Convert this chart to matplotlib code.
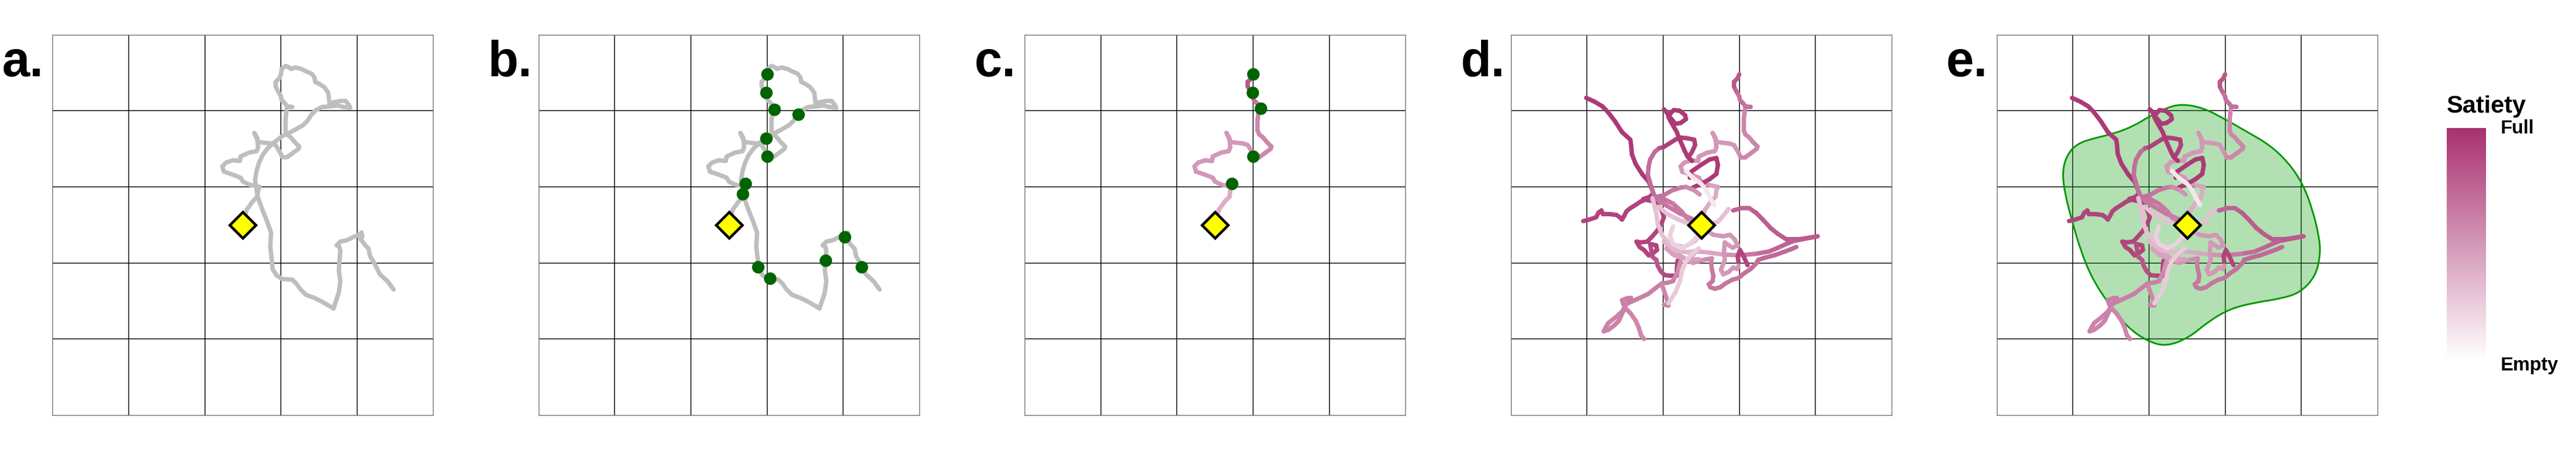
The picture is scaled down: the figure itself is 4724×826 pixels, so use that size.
import matplotlib
matplotlib.use("Agg")
import matplotlib.pyplot as plt
from matplotlib.collections import LineCollection
from matplotlib.colors import LinearSegmentedColormap, Normalize
from matplotlib.path import Path
from matplotlib.patches import PathPatch
import matplotlib.colorbar as mcolorbar

plt.rcParams['font.family'] = ['Liberation Sans', 'DejaVu Sans']

# arena 500 m x 500 m, grid every 100 m, nest in the middle
nest = (250, 250)
grid_lines = [100, 200, 300, 400]
panel_letters = ['a.', 'b.', 'c.', 'd.', 'e.']

# one tracked path (metres), panels a-b
track = [
    (250, 252), (255, 270), (263, 281), (269, 287), (270, 295), (272, 300),
    (258, 303), (250, 307), (247, 312), (237, 316), (225, 320), (223, 327), (228, 332),
    (237, 335), (246, 334), (247, 340), (258, 345), (268, 347), (270, 352), (269, 362),
    (265, 371), (269, 364), (270, 359), (287, 357), (293, 355), (299, 345),
    (302, 339), (308, 339), (315, 344), (323, 350), (324, 353), (318, 359), (313, 365),
    (308, 369), (306, 374), (306, 388), (307, 398), (308, 405),
    (315, 405), (308, 406), (305, 410), (301, 414), (300, 419), (296, 426),
    (293, 432), (293, 438), (298, 443), (300, 448),
    (301, 455), (306, 459), (311, 457), (313, 455), (319, 457), (327, 455), (335, 451),
    (340, 449), (344, 444), (345, 438), (351, 435), (357, 431), (362, 424), (363, 417),
    (364, 408), (368, 411), (378, 413), (385, 413), (389, 408), (391, 404), (382, 405),
    (375, 407), (367, 406), (354, 405), (346, 401), (340, 395), (335, 387), (329, 381),
    (320, 376), (311, 371), (302, 367), (296, 362), (289, 357), (282, 350), (276, 342),
    (271, 331), (268, 321), (266, 309), (268, 297), (269, 288), (276, 269), (282, 254),
    (287, 240), (286, 221), (288, 204), (289, 192), (294, 184), (301, 179), (315, 178),
    (321, 172), (325, 166), (333, 158), (344, 154), (354, 149), (366, 142), (369, 140),
    (373, 152), (376, 161), (378, 176), (376, 190), (377, 204), (378, 216), (376, 223),
    (373, 223), (378, 228), (387, 230), (397, 235), (404, 238), (406, 240), (407, 234),
    (404, 232), (411, 223), (415, 219), (417, 209), (423, 199), (430, 185), (440, 176),
    (448, 165),
]
first_trip_len = 48
first_trip_satiety = [
    0.40, 0.40, 0.40, 0.40, 0.40, 0.40,
    0.50, 0.50, 0.50, 0.50, 0.50, 0.50, 0.50, 0.50, 0.50, 0.50,
    0.50, 0.50, 0.50, 0.50, 0.50, 0.50, 0.50, 0.50, 0.50, 0.50,
    0.58, 0.58, 0.58, 0.58, 0.58, 0.58, 0.58, 0.58, 0.58, 0.58, 0.58, 0.58,
    0.68, 0.68, 0.68, 0.68, 0.68, 0.68,
    0.80, 0.80, 0.80, 0.80,
]

# feeding events
food_all = [(300, 448), (299, 424), (310, 402), (341, 395), (299, 364), (300, 340), (272, 304),
            (268, 291), (288, 195), (304, 180), (377, 203), (402, 234), (424, 195)]
food_first_trip = [(300, 448), (299, 424), (310, 403), (300, 340), (272, 304)]

# other trips from the same nest: (x, y, satiety)
trip_nw = [(99, 417, .95), (110, 412, .95), (120, 406, .95), (127, 399, .95), (137, 386, .95),
           (146, 372, .95), (157, 362, .95), (158, 355, .95), (159, 343, .95), (164, 330, .95),
           (173, 316, .95), (181, 307, .95), (184, 300, .95), (187, 292, .95), (183, 287, .95),
           (174, 284, .95), (186, 286, .9), (199, 285, .7), (213, 278, .65), (224, 268, .65),
           (231, 259, .6), (243, 248, .6)]
trip_w = [(95, 255, .9), (103, 257, .9), (112, 260, .9), (115, 266, .9), (119, 269, .9),
          (121, 264, .9), (131, 264, .9), (139, 263, .9), (143, 260, .9), (146, 257, .9),
          (149, 262, .9), (152, 268, .9), (157, 272, .9), (165, 277, .9), (171, 281, .9),
          (177, 283, .9), (187, 281, .9), (194, 275, .9), (198, 269, .9), (201, 260, .9),
          (198, 252, .9), (192, 242, .9), (185, 234, .9), (179, 228, .9), (171, 227, .9),
          (165, 228, .9), (169, 221, .9), (175, 217, .9), (181, 210, .9), (187, 213, .9),
          (192, 217, .9), (191, 223, .9), (183, 225, .9), (186, 208, .82), (191, 204, .82),
          (193, 196, .82), (197, 189, .82), (202, 184, .88), (211, 183, .9), (218, 183, .9),
          (218, 192, .9), (219, 203, .9)]
trip_n_loop = [(238, 334, .95), (232, 340, .95), (228, 348, .95), (225, 355, .95), (221, 364, .95),
               (218, 372, .95), (214, 379, .95), (210, 386, .95), (207, 392, .95), (210, 397, .95),
               (214, 401, .95), (222, 400, .95), (229, 394, .95), (230, 389, .95), (223, 384, .95),
               (216, 383, .95), (212, 388, .95), (207, 394, .95), (204, 399, .95), (201, 402, .95)]
trip_n = [(248, 252, .55), (238, 258, .6), (222, 265, .65), (205, 275, .65), (190, 285, .68),
          (186, 295, .7), (183, 305, .7), (180, 316, .7), (181, 327, .7), (183, 336, .7),
          (189, 346, .7), (195, 351, .72), (200, 352, .92), (208, 357, .92), (216, 362, .92),
          (221, 365, .92), (231, 364, .92), (241, 362, .92), (242, 355, .92), (238, 346, .92),
          (234, 340, .92)]
trip_knot = [(235, 312, .95), (237, 320, .95), (250, 329, .95), (261, 336, .95), (270, 338, .95),
             (272, 329, .95), (270, 317, .95), (261, 310, .95), (250, 304, .95), (239, 299, .95)]
trip_e = [(292, 269, .75), (303, 272, .75), (313, 272, .75), (322, 266, .78), (331, 257, .78),
          (341, 246, .78), (351, 238, .78), (362, 231, .78), (377, 231, .8), (391, 233, .8),
          (403, 235, .8), (372, 229, .78), (362, 225, .75), (351, 220, .75), (339, 215, .72),
          (322, 212, .7), (300, 210, .62), (279, 211, .45), (257, 214, .42), (243, 215, .4),
          (235, 205, .4)]
trip_e_dark = [(299, 201, .9), (298, 209, .9), (301, 217, .9), (306, 208, .9), (311, 197, .9)]
trip_se = [(375, 221, .72), (368, 218, .72), (360, 215, .72), (346, 210, .72), (334, 207, .72),
           (325, 204, .72), (322, 199, .7), (315, 192, .68), (306, 186, .68), (299, 180, .68),
           (291, 178, .66), (282, 173, .66), (275, 168, .66), (268, 166, .66), (262, 168, .66),
           (260, 172, .66), (265, 176, .66), (266, 183, .66), (264, 192, .64), (263, 201, .64),
           (264, 206, .6), (253, 204, .55), (239, 200, .5), (231, 204, .5), (222, 210, .45),
           (215, 214, .45)]
trip_ring = [(256, 243, .45), (266, 237, .5), (279, 235, .5), (288, 237, .5), (294, 231, .5),
             (298, 223, .5), (291, 220, .5), (281, 227, .5), (280, 216, .5), (281, 204, .5),
             (276, 191, .5), (279, 185, .5), (286, 188, .5), (292, 194, .5), (297, 192, .5),
             (299, 196, .5)]
trip_sw = [(223, 202, .5), (219, 188, .55), (213, 176, .6), (206, 174, .62), (198, 173, .62),
           (189, 166, .62), (180, 159, .62), (165, 152, .62), (154, 147, .62), (148, 145, .62),
           (146, 151, .62), (154, 154, .62), (158, 154, .62), (152, 146, .62), (146, 136, .6),
           (137, 128, .6), (128, 121, .6), (124, 114, .6), (122, 110, .6), (128, 112, .6),
           (136, 118, .6), (142, 124, .6), (146, 133, .6), (150, 141, .6), (157, 134, .58),
           (164, 124, .58), (168, 115, .58), (171, 105, .58), (175, 100, .58)]
trip_s = [(201, 145, .58), (207, 144, .58), (205, 152, .58), (201, 164, .58), (198, 172, .58)]
trip_mid = [(186, 286, .68), (201, 289, .68), (211, 295, .66), (223, 299, .66), (230, 300, .6),
            (240, 296, .55), (248, 290, .5)]
trip_s_light = [(207, 147, .25), (216, 161, .25), (222, 176, .25), (225, 190, .25), (230, 202, .25),
                (237, 211, .25), (247, 219, .25)]
trip_pale = [(230, 321, .12), (239, 312, .12), (250, 304, .12), (257, 295, .12), (262, 285, .12),
             (267, 276, .12)]
trip_w_light = [(186, 285, .3), (191, 266, .3), (193, 251, .3), (199, 236, .3), (209, 225, .3),
                (228, 221, .3), (242, 229, .3), (250, 238, .3)]
trip_c1 = [(213, 248, .22), (209, 236, .22), (213, 225, .22), (224, 219, .22), (235, 225, .22),
           (246, 236, .22), (252, 244, .22)]
trip_c2 = [(255, 255, .3), (265, 252, .3), (272, 254, .3), (279, 262, .3), (286, 271, .3)]
trip_c3 = [(194, 274, .3), (206, 264, .3), (218, 258, .3), (232, 252, .3)]
trip_c4 = [(201, 228, .35), (208, 221, .35), (218, 216, .35), (232, 214, .35), (244, 216, .35)]
trip_c5 = [(204, 219, .45), (213, 211, .45), (223, 207, .45), (235, 204, .45), (247, 205, .45)]

# home range outline (panel e)
home_range = [(243, 409), (271, 404), (300, 389), (326, 374), (359, 355), (384, 331), (402, 304),
              (415, 270), (424, 232), (425, 210), (419, 183), (399, 161), (373, 153), (340, 148),
              (307, 140), (278, 123), (253, 102), (223, 90), (198, 97), (172, 115), (147, 146),
              (125, 180), (110, 217), (99, 255), (90, 289), (86, 319), (92, 342), (106, 357),
              (128, 364), (154, 370), (180, 380), (201, 393), (223, 404)]

cmap = LinearSegmentedColormap.from_list('satiety', ['#FFFFFF', '#A8306F'])
LW = 5.8

first_trip = [(x, y, s) for (x, y), s in zip(track[:first_trip_len], first_trip_satiety)]
all_trips = [trip_nw, trip_w, trip_e, trip_se, trip_sw, trip_s, first_trip, trip_n, trip_n_loop,
             trip_knot, trip_e_dark, trip_mid, trip_ring, trip_w_light, trip_c3, trip_c4, trip_c5,
             trip_c1, trip_c2, trip_s_light, trip_pale]


def draw_trip(ax, pts):
    segs = [[pts[i][:2], pts[i + 1][:2]] for i in range(len(pts) - 1)]
    cols = [cmap((pts[i][2] + pts[i + 1][2]) / 2) for i in range(len(pts) - 1)]
    ax.add_collection(LineCollection(segs, colors=cols, linewidths=LW, capstyle='round',
                                     joinstyle='round', zorder=3))


def smooth_outline(pts):
    n = len(pts)
    mids = [((pts[i][0] + pts[(i + 1) % n][0]) / 2, (pts[i][1] + pts[(i + 1) % n][1]) / 2)
            for i in range(n)]
    verts, codes = [mids[-1]], [Path.MOVETO]
    for i in range(n):
        verts += [pts[i], mids[i]]
        codes += [Path.CURVE3, Path.CURVE3]
    verts.append(mids[-1])
    codes.append(Path.CLOSEPOLY)
    return Path(verts, codes)


W, H = 4724, 826
fig = plt.figure(figsize=(W / 100, H / 100), dpi=100)
lefts = [96.4, 987.7, 1879.2, 2770.7, 3661.7]
axes = []
for i, lx in enumerate(lefts):
    ax = fig.add_axes([lx / W, 64.2 / H, 698 / W, 698 / H])
    ax.set_xlim(0, 500)
    ax.set_ylim(0, 500)
    ax.set_xticks(grid_lines)
    ax.set_yticks(grid_lines)
    ax.tick_params(length=0, labelbottom=False, labelleft=False)
    ax.grid(True, color='black', linewidth=1.1)
    ax.set_axisbelow(True)
    for sp in ax.spines.values():
        sp.set_color('#666666')
        sp.set_linewidth(1.0)
    ax.text(-0.133, 0.891, panel_letters[i], transform=ax.transAxes, fontsize=66,
            fontweight='bold', ha='left', va='baseline')
    axes.append(ax)

tx = [p[0] for p in track]
ty = [p[1] for p in track]

# a: raw path
axes[0].plot(tx, ty, color='#BEBEBE', lw=LW, solid_capstyle='round', solid_joinstyle='round', zorder=3)

# b: path with feeding events
axes[1].plot(tx, ty, color='#BEBEBE', lw=LW, solid_capstyle='round', solid_joinstyle='round', zorder=3)
axes[1].plot([p[0] for p in food_all], [p[1] for p in food_all], 'o', ms=16.5, color='#006400',
             mew=0, zorder=5)

# c: first trip coloured by satiety
draw_trip(axes[2], first_trip)
axes[2].plot([p[0] for p in food_first_trip], [p[1] for p in food_first_trip], 'o', ms=16.5,
             color='#006400', mew=0, zorder=5)

# d, e: all trips
for ax in axes[3:]:
    for trip in all_trips:
        draw_trip(ax, trip)

axes[4].add_patch(PathPatch(smooth_outline(home_range), facecolor=(0, 0.6, 0, 0.3),
                            edgecolor='#009900', linewidth=2.3, zorder=1))

for ax in axes:
    ax.plot(*nest, marker='D', ms=24, mfc='#FFFF00', mec='black', mew=3.5, zorder=10)

# colour bar
cax = fig.add_axes([4487 / W, (H - 662) / H, 72 / W, 427 / H])
cb = mcolorbar.ColorbarBase(cax, cmap=cmap, norm=Normalize(0, 1), ticks=[])
cb.outline.set_visible(False)
cax.text(0.0, 1.066, 'Satiety', transform=cax.transAxes, fontsize=32, fontweight='bold',
         ha='left', va='baseline')
cax.text(1.37, 1.0, 'Full', transform=cax.transAxes, fontsize=25, fontweight='bold',
         ha='left', va='center')
cax.text(1.37, -0.02, 'Empty', transform=cax.transAxes, fontsize=25, fontweight='bold',
         ha='left', va='center')

fig.savefig('out.png', dpi=100)
